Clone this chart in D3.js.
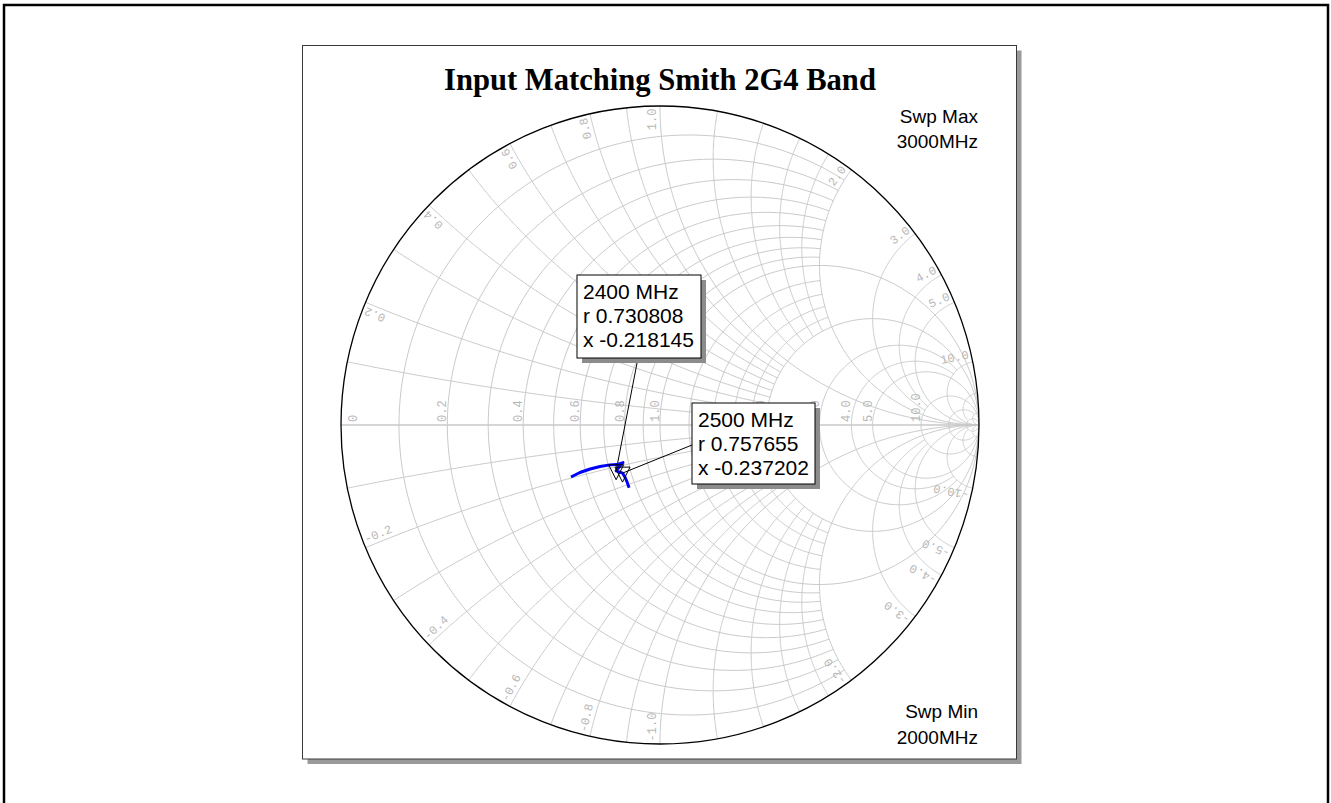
<!DOCTYPE html>
<html>
<head>
<meta charset="utf-8">
<script src="https://cdn.jsdelivr.net/npm/d3@7"></script>
<style>
  body { margin: 0; background: #fff; }
  svg { display: block; }
</style>
</head>
<body>
<svg id="chart" width="1331" height="803"></svg>
<script>
// ---- chart text ----
const chartTitle = "Input Matching Smith 2G4 Band";
const sweepMaxText = ["Swp Max", "3000MHz"];
const sweepMinText = ["Swp Min", "2000MHz"];

// ---- Smith grid: constant-resistance circles and the |x| each one spans ----
const rValues = [0.1, 0.2, 0.3, 0.4, 0.5, 0.6, 0.7, 0.8, 0.9, 1.0, 1.2, 1.4, 1.6, 1.8, 2.0, 3.0, 4.0, 5.0, 10, 20, 50];
const rSpans  = [2, 2, 2, 2, 2, 2, 2, 2, 2, Infinity, 2, 2, 2, 2, Infinity, 10, 10, Infinity, Infinity, 50, Infinity];
// constant-reactance arcs and the r each one runs out to
const xValues = [0.1, 0.2, 0.3, 0.4, 0.5, 0.6, 0.7, 0.8, 0.9, 1.0, 1.2, 1.4, 1.6, 1.8, 2.0, 3.0, 4.0, 5.0, 10, 20, 50];
const xSpans  = [2, 2, 2, 2, 2, 2, 2, 2, 2, Infinity, 2, 2, 2, 2, Infinity, 10, 10, Infinity, Infinity, 50, Infinity];

// ---- grid labels ----
const rTickLabels = ["0", "0.2", "0.4", "0.6", "0.8", "1.0", "2.0", "3.0", "4.0", "5.0", "10.0"];
const xTickLabels = ["0.2", "0.4", "0.6", "0.8", "1.0", "2.0", "3.0", "4.0", "5.0", "10.0"];

// ---- S11 sweep, reflection coefficient (real / imaginary) ----
const traceFreq = [2000, 2050, 2100, 2150, 2200, 2250, 2300, 2600, 2800, 3000];
const traceRe   = [-0.279, -0.251, -0.219, -0.188, -0.157, -0.135, -0.116, -0.110, -0.103, -0.097];
const traceIm   = [-0.163, -0.149, -0.138, -0.130, -0.125, -0.124, -0.118, -0.163, -0.179, -0.197];

// ---- markers (normalised impedance) ----
const markerFreq = [2400, 2500];
const markerR = [0.730808, 0.757655];
const markerX = [-0.218145, -0.237202];

// ---------------------------------------------------------------
const svg = d3.select("#chart");
const cx = 660, cy = 425, RAD = 319;

const sx = d3.scaleLinear().domain([-1, 1]).range([cx - RAD, cx + RAD]);
const sy = d3.scaleLinear().domain([-1, 1]).range([cy + RAD, cy - RAD]);

function gamma(r, x) {
  if (!isFinite(r) || !isFinite(x)) return [1, 0];
  const den = (r + 1) * (r + 1) + x * x;
  return [((r - 1) * (r + 1) + x * x) / den, (2 * x) / den];
}

function rCircle(r, span) {
  const c = r / (r + 1), rho = 1 / (r + 1);
  let phi = 0;
  if (isFinite(span)) {
    const g = gamma(r, span);
    phi = Math.atan2(g[1], g[0] - c);
  }
  const n = 360;
  return d3.range(n + 1).map(i => {
    const t = phi + (2 * Math.PI - 2 * phi) * i / n;
    return [c + rho * Math.cos(t), rho * Math.sin(t)];
  });
}

function xArc(x, span) {
  const ccx = 1, ccy = 1 / x, rho = 1 / Math.abs(x);
  const s = gamma(0, x), e = gamma(span, x);
  const a0 = Math.atan2(s[1] - ccy, s[0] - ccx);
  const a1 = Math.atan2(e[1] - ccy, e[0] - ccx);
  let d = a1 - a0;
  while (d > Math.PI) d -= 2 * Math.PI;
  while (d <= -Math.PI) d += 2 * Math.PI;
  const n = 240;
  return d3.range(n + 1).map(i => {
    const t = a0 + d * i / n;
    return [ccx + rho * Math.cos(t), ccy + rho * Math.sin(t)];
  });
}

const line = d3.line().x(d => sx(d[0])).y(d => sy(d[1]));

// page frame
svg.append("rect").attr("x", 4).attr("y", 5).attr("width", 1324).attr("height", 830)
  .attr("fill", "none").attr("stroke", "#000").attr("stroke-width", 2.5);

// panel with drop shadow
const panel = { x: 302.5, y: 45.5, w: 714, h: 713.5 };
svg.append("rect").attr("x", panel.x + 5).attr("y", panel.y + 5)
  .attr("width", panel.w).attr("height", panel.h).attr("fill", "#9a9a9a");
svg.append("rect").attr("x", panel.x).attr("y", panel.y)
  .attr("width", panel.w).attr("height", panel.h)
  .attr("fill", "#fff").attr("stroke", "#3a3a3a").attr("stroke-width", 1);

// title
svg.append("text").attr("x", cx).attr("y", 90).attr("text-anchor", "middle")
  .attr("font-family", "'Liberation Serif', 'Times New Roman', serif")
  .attr("font-weight", "bold").attr("font-size", 30.6).text(chartTitle);

// sweep annotations
const sweepFont = "'Liberation Sans', Arial, sans-serif";
sweepMaxText.forEach((t, i) => {
  svg.append("text").attr("x", 978).attr("y", 123 + i * 25).attr("text-anchor", "end")
    .attr("font-family", sweepFont).attr("font-size", 19).text(t);
});
sweepMinText.forEach((t, i) => {
  svg.append("text").attr("x", 978).attr("y", 718 + i * 26).attr("text-anchor", "end")
    .attr("font-family", sweepFont).attr("font-size", 19).text(t);
});

// grid
svg.append("clipPath").attr("id", "unit").append("circle")
  .attr("cx", cx).attr("cy", cy).attr("r", RAD);
const grid = svg.append("g").attr("clip-path", "url(#unit)")
  .attr("fill", "none").attr("stroke", "#c8c8c8").attr("stroke-width", 1);

rValues.forEach((r, i) => grid.append("path").attr("d", line(rCircle(r, rSpans[i]))));
xValues.forEach((x, i) => {
  grid.append("path").attr("d", line(xArc(x, xSpans[i])));
  grid.append("path").attr("d", line(xArc(-x, xSpans[i])));
});
grid.append("line").attr("x1", sx(-1)).attr("x2", sx(1)).attr("y1", sy(0)).attr("y2", sy(0))
  .attr("stroke-width", 1.4);

// grid labels
const labelFont = "'Liberation Mono', 'Courier New', monospace";
const lab = svg.append("g").attr("font-family", labelFont).attr("font-size", 12).attr("fill", "#b8b8b8");

rTickLabels.forEach(t => {
  const r = +t;
  const gx = sx((r - 1) / (r + 1));
  const bx = r === 0 ? gx + 16 : gx - 1;
  lab.append("text").attr("transform", `translate(${bx},${cy - 3}) rotate(-90)`)
    .attr("text-anchor", "start").text(t);
});

xTickLabels.forEach(t => {
  const x = +t;
  [1, -1].forEach(sgn => {
    const g = gamma(0, sgn * x);
    const th = Math.atan2(g[1], g[0]);
    const px = sx(g[0] * 0.992), py = sy(g[1] * 0.992);
    const deg = -th * 180 / Math.PI;
    if (sgn > 0) {
      lab.append("text").attr("transform", `translate(${px},${py}) rotate(${deg})`)
        .attr("y", -4).attr("text-anchor", "end").text(t);
    } else {
      lab.append("text").attr("transform", `translate(${px},${py}) rotate(${deg + 180})`)
        .attr("y", -4).attr("text-anchor", "start").text("-" + t);
    }
  });
});

// outer boundary
svg.append("circle").attr("cx", cx).attr("cy", cy).attr("r", RAD)
  .attr("fill", "none").attr("stroke", "#000").attr("stroke-width", 1.3);

// trace, with the marker points merged in by frequency
const markerG = markerR.map((r, i) => gamma(r, markerX[i]));
const pts = traceFreq.map((f, i) => ({ f, re: traceRe[i], im: traceIm[i] }))
  .concat(markerFreq.map((f, i) => ({ f, re: markerG[i][0], im: markerG[i][1] })))
  .sort((a, b) => a.f - b.f);
svg.append("path").attr("d", d3.line().x(d => sx(d.re)).y(d => sy(d.im))(pts))
  .attr("fill", "none").attr("stroke", "#0000ff").attr("stroke-width", 3)
  .attr("stroke-linejoin", "round");

// marker callouts
const boxes = [
  { x: 577, y: 275, w: 124, h: 83, ax: 638, ay: 358 },
  { x: 692, y: 403, w: 123, h: 81, ax: 692, ay: 445 }
];
markerFreq.forEach((f, i) => {
  const b = boxes[i];
  const mx = sx(markerG[i][0]), my = sy(markerG[i][1]);
  svg.append("line").attr("x1", b.ax).attr("y1", b.ay).attr("x2", mx).attr("y2", my)
    .attr("stroke", "#000").attr("stroke-width", 1);
  svg.append("path")
    .attr("d", `M${mx - 7.5},${my - 6} L${mx + 7.5},${my - 6} L${mx},${my + 9} Z`)
    .attr("fill", "none").attr("stroke", "#000").attr("stroke-width", 1);
});
markerFreq.forEach((f, i) => {
  const b = boxes[i];
  svg.append("rect").attr("x", b.x + 5).attr("y", b.y + 5).attr("width", b.w).attr("height", b.h)
    .attr("fill", "#8c8c8c");
  svg.append("rect").attr("x", b.x).attr("y", b.y).attr("width", b.w).attr("height", b.h)
    .attr("fill", "#fff").attr("stroke", "#000").attr("stroke-width", 1);
  const lines = [`${f} MHz`, `r ${markerR[i].toFixed(6)}`, `x ${markerX[i].toFixed(6)}`];
  lines.forEach((t, k) => {
    svg.append("text").attr("x", b.x + 6).attr("y", b.y + 24 + k * 24)
      .attr("font-family", sweepFont).attr("font-size", 21).text(t);
  });
});
</script>
</body>
</html>
